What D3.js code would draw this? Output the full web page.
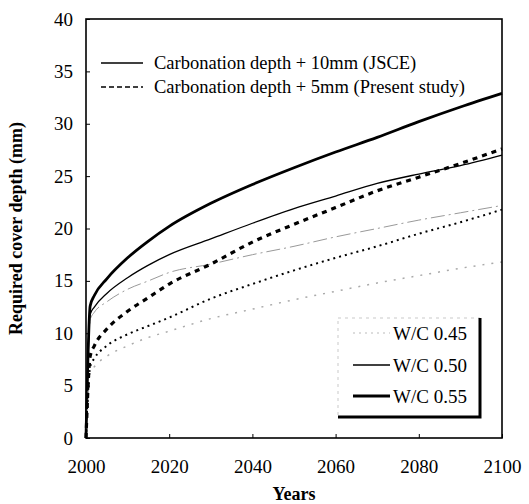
<!DOCTYPE html>
<html>
<head>
<meta charset="utf-8">
<script src="https://cdn.jsdelivr.net/npm/d3@7"></script>
<style>
  body { margin: 0; background: #fff; }
  svg { display: block; font-family: "Liberation Serif", "Times New Roman", serif; }
</style>
</head>
<body>
<div id="chart"></div>
<script>
// years
var years = [2000, 2001, 2002, 2005, 2010, 2015, 2020, 2030, 2040, 2050, 2060, 2070, 2080, 2090, 2100];

// carbonation depth + 10mm (JSCE)
var jsce045 = [0, 11.3, 12.0, 13.0, 14.2, 15.0, 15.8, 16.6, 17.5, 18.3, 19.2, 20.0, 20.8, 21.5, 22.2];
var jsce050 = [0, 11.8, 12.5, 13.8, 15.3, 16.5, 17.5, 19.0, 20.5, 21.9, 23.1, 24.3, 25.2, 26.0, 27.0];
var jsce055 = [0, 12.6, 13.6, 15.2, 17.2, 18.8, 20.2, 22.4, 24.2, 25.8, 27.3, 28.7, 30.2, 31.6, 32.9];

// carbonation depth + 5mm (present study)
var pres045 = [0, 6.2, 6.8, 7.8, 8.8, 9.6, 10.2, 11.4, 12.3, 13.2, 14.0, 14.8, 15.5, 16.2, 16.8];
var pres050 = [0, 6.8, 7.6, 8.8, 9.9, 10.7, 11.5, 13.3, 14.7, 16.0, 17.2, 18.3, 19.5, 20.6, 21.8];
var pres055 = [0, 7.8, 8.8, 10.4, 12.1, 13.4, 14.7, 16.6, 18.7, 20.4, 22.0, 23.6, 24.9, 26.2, 27.6];

var xTicks = [2000, 2020, 2040, 2060, 2080, 2100];
var yTicks = [0, 5, 10, 15, 20, 25, 30, 35, 40];

var w = 529, h = 504;
var margin = {top: 19, right: 27, bottom: 66, left: 86};

var svg = d3.select("#chart").append("svg")
  .attr("width", w)
  .attr("height", h);

var x = d3.scaleLinear().domain([2000, 2100]).range([margin.left, w - margin.right]);
var y = d3.scaleLinear().domain([0, 40]).range([h - margin.bottom, margin.top]);

//축
var xAxis = svg.append("g")
  .attr("transform", "translate(0," + (h - margin.bottom) + ")")
  .call(d3.axisBottom(x).tickValues(xTicks).tickSize(-4).tickPadding(22).tickFormat(d3.format("d")));
var yAxis = svg.append("g")
  .attr("transform", "translate(" + margin.left + ",0)")
  .call(d3.axisLeft(y).tickValues(yTicks).tickSize(-4).tickPadding(13));
[xAxis, yAxis].forEach(function(g) {
  g.select(".domain").remove();
  g.selectAll("text").attr("font-size", "19px").attr("font-family", "Liberation Serif").attr("fill", "#000");
  g.selectAll("line").attr("stroke", "#000");
});

//선 그리기
var line = d3.line()
  .x(function(d) { return x(d[0]); })
  .y(function(d) { return y(d[1]); })
  .curve(d3.curveMonotoneX);

var series = [
  {vals: jsce045, stroke: "#999", width: 1, dash: "14,4,2,4"},
  {vals: jsce050, stroke: "#000", width: 1.3, dash: null},
  {vals: jsce055, stroke: "#000", width: 2.8, dash: null},
  {vals: pres045, stroke: "#aaa", width: 1.5, dash: "2,7"},
  {vals: pres050, stroke: "#000", width: 2, dash: "2,4"},
  {vals: pres055, stroke: "#000", width: 3.2, dash: "5,5"}
];

series.forEach(function(s) {
  svg.append("path")
    .datum(years.map(function(yr, i) { return [yr, s.vals[i]]; }))
    .attr("d", line)
    .attr("fill", "none")
    .attr("stroke", s.stroke)
    .attr("stroke-width", s.width)
    .attr("stroke-dasharray", s.dash);
});

//테두리
svg.append("rect")
  .attr("x", margin.left)
  .attr("y", margin.top)
  .attr("width", w - margin.left - margin.right)
  .attr("height", h - margin.top - margin.bottom)
  .attr("fill", "none")
  .attr("stroke", "#000")
  .attr("stroke-width", 1.6);

//위 범례
var topLegend = [
  {label: "Carbonation depth + 10mm (JSCE)", dash: null, y: 63},
  {label: "Carbonation depth + 5mm (Present study)", dash: "5,3", y: 87}
];
topLegend.forEach(function(d) {
  svg.append("line")
    .attr("x1", 101).attr("x2", 143)
    .attr("y1", d.y).attr("y2", d.y)
    .attr("stroke", "#000")
    .attr("stroke-width", 1.3)
    .attr("stroke-dasharray", d.dash);
  svg.append("text")
    .text(d.label)
    .attr("x", 154)
    .attr("y", d.y)
    .attr("dy", "0.35em")
    .attr("font-size", "18.5px")
    .attr("fill", "#000");
});

//아래 범례
svg.append("rect")
  .attr("x", 338).attr("y", 318)
  .attr("width", 142).attr("height", 99)
  .attr("fill", "#fff")
  .attr("stroke", "#bbb")
  .attr("stroke-width", 0.8)
  .attr("stroke-dasharray", "3,4");
svg.append("path")
  .attr("d", "M480,318 V417 H338")
  .attr("fill", "none")
  .attr("stroke", "#000")
  .attr("stroke-width", 3);

var wcLegend = [
  {label: "W/C 0.45", stroke: "#bbb", width: 1, dash: "2,4", y: 333},
  {label: "W/C 0.50", stroke: "#000", width: 1.3, dash: null, y: 365},
  {label: "W/C 0.55", stroke: "#000", width: 3, dash: null, y: 396}
];
wcLegend.forEach(function(d) {
  svg.append("line")
    .attr("x1", 353).attr("x2", 390)
    .attr("y1", d.y).attr("y2", d.y)
    .attr("stroke", d.stroke)
    .attr("stroke-width", d.width)
    .attr("stroke-dasharray", d.dash);
  svg.append("text")
    .text(d.label)
    .attr("x", 393)
    .attr("y", d.y)
    .attr("dy", "0.35em")
    .attr("font-size", "19px")
    .attr("fill", "#000");
});

//축 제목
svg.append("text")
  .text("Years")
  .attr("x", (margin.left + w - margin.right) / 2)
  .attr("y", 500)
  .attr("text-anchor", "middle")
  .attr("font-weight", "bold")
  .attr("font-size", "18px");
svg.append("text")
  .text("Required cover depth (mm)")
  .attr("transform", "translate(22," + ((margin.top + h - margin.bottom) / 2) + ") rotate(-90)")
  .attr("text-anchor", "middle")
  .attr("font-weight", "bold")
  .attr("font-size", "18px");
</script>
</body>
</html>
